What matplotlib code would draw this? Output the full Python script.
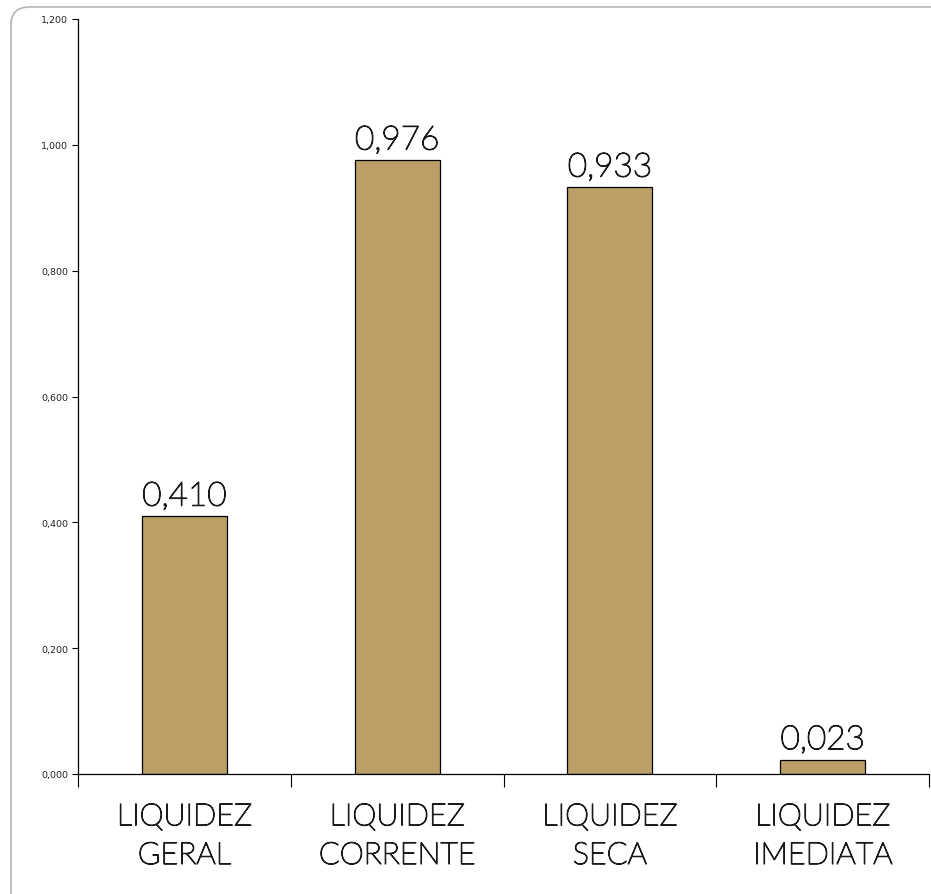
import matplotlib.pyplot as plt
import matplotlib.patheffects as pe
from matplotlib.patches import FancyBboxPatch

categorias = ["LIQUIDEZ\nGERAL", "LIQUIDEZ\nCORRENTE", "LIQUIDEZ\nSECA", "LIQUIDEZ\nIMEDIATA"]
valores = [0.410, 0.976, 0.933, 0.023]
ticks_y = [0.0, 0.2, 0.4, 0.6, 0.8, 1.0, 1.2]


def fmt(v):
    return f"{v:.3f}".replace(".", ",")


fig = plt.figure(figsize=(9.31, 8.95), dpi=100)

# moldura arredondada (só o canto superior esquerdo aparece)
moldura = FancyBboxPatch((11 / 931, -0.1), 1.1, 1 - 8 / 895 + 0.1,
                         boxstyle="round,pad=0,rounding_size=0.02",
                         transform=fig.transFigure, facecolor="white",
                         edgecolor="#b4b4b4", linewidth=1.2, zorder=-5)
fig.add_artist(moldura)

ax = fig.add_axes([78 / 931, 1 - 775 / 895, (929 - 78) / 931, (775 - 20) / 895])
ax.set_facecolor("none")
ax.set_zorder(2)

x = range(len(valores))
ax.bar(x, valores, width=0.4, color="#bb9f67", edgecolor="black", linewidth=0.9)

fonte = ["Lato", "DejaVu Sans"]
traco = [pe.withStroke(linewidth=0.9, foreground="#1a1a1a")]
for i, v in enumerate(valores):
    ax.text(i, v + 0.007, fmt(v), ha="center", va="bottom", fontsize=24,
            family=fonte, fontweight="light", color="#1a1a1a", path_effects=traco)

ax.set_xlim(-0.5, 3.5)
ax.set_ylim(0, 1.2)
ax.set_yticks(ticks_y)
ax.set_yticklabels([fmt(t) for t in ticks_y], fontsize=6.8, color="#222222")
ax.tick_params(axis="y", length=4, width=0.8, pad=3)

ax.set_xticks([-0.5, 0.5, 1.5, 2.5, 3.5])
ax.set_xticklabels([])
ax.tick_params(axis="x", length=9, width=0.8, direction="out")
for i, c in enumerate(categorias):
    ax.text(i, -0.045, c, ha="center", va="top", fontsize=22, family=fonte,
            fontweight="light", color="#1a1a1a", linespacing=1.42,
            path_effects=traco)

for s in ["top", "right"]:
    ax.spines[s].set_visible(False)
ax.spines["left"].set_linewidth(0.9)
ax.spines["bottom"].set_linewidth(0.9)

fig.savefig("out.png", dpi=100)
